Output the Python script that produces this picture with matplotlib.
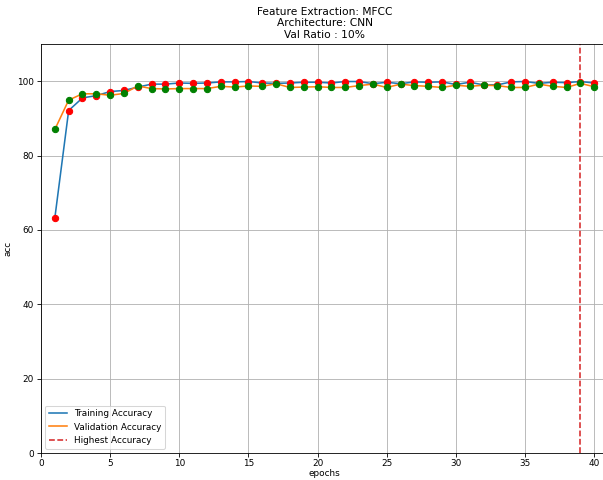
from matplotlib import pyplot as plt
import numpy as np

# values
epochs = list(range(1, 41))
train_acc = [63.2, 92.1, 95.5, 96.1, 97.2, 97.5, 98.4, 99.2, 99.2, 99.5,
             99.4, 99.5, 99.8, 99.8, 99.9, 99.5, 99.4, 99.5, 99.7, 99.7,
             99.5, 99.9, 99.9, 99.3, 99.7, 99.3, 99.8, 99.7, 99.8, 99.1,
             99.7, 99.0, 99.0, 99.8, 99.9, 99.4, 99.7, 99.6, 99.9, 99.5]
val_acc = [87.0, 94.9, 96.6, 96.6, 96.2, 96.7, 98.7, 98.0, 97.9, 98.0,
           98.0, 98.0, 98.6, 98.4, 98.7, 98.6, 99.3, 98.3, 98.4, 98.5,
           98.3, 98.3, 98.8, 99.2, 98.3, 99.2, 98.8, 98.6, 98.3, 98.9,
           98.6, 98.9, 98.8, 98.3, 98.3, 99.2, 98.6, 98.3, 99.4, 98.5]

best_epoch = epochs[int(np.argmax(val_acc))]

plt.rcParams['font.size'] = 8.5

fig = plt.figure(figsize=(8, 6.369), dpi=75.375)
ax = fig.add_axes([0.068, 0.0563, 0.9403, 0.852])

ax.plot(epochs, train_acc, label='Training Accuracy')
ax.plot(epochs, val_acc, label='Validation Accuracy')
ax.scatter(epochs, train_acc, color='red', zorder=3)
ax.scatter(epochs, val_acc, color='green', zorder=3)
ax.axvline(best_epoch, color='tab:red', linestyle='--', label='Highest Accuracy')

ax.set_xlim(0, 41)
ax.set_ylim(0, 110)
ax.set_xticks([0, 5, 10, 15, 20, 25, 30, 35, 40])
ax.tick_params(axis='x', pad=2.5)
ax.set_xlabel('epochs', labelpad=1)
ax.set_ylabel('acc')
ax.set_title('Feature Extraction: MFCC\nArchitecture: CNN\nVal Ratio : 10%')
ax.grid(True)
ax.legend(loc='lower left')

fig.savefig('out.png', dpi=75.375)
